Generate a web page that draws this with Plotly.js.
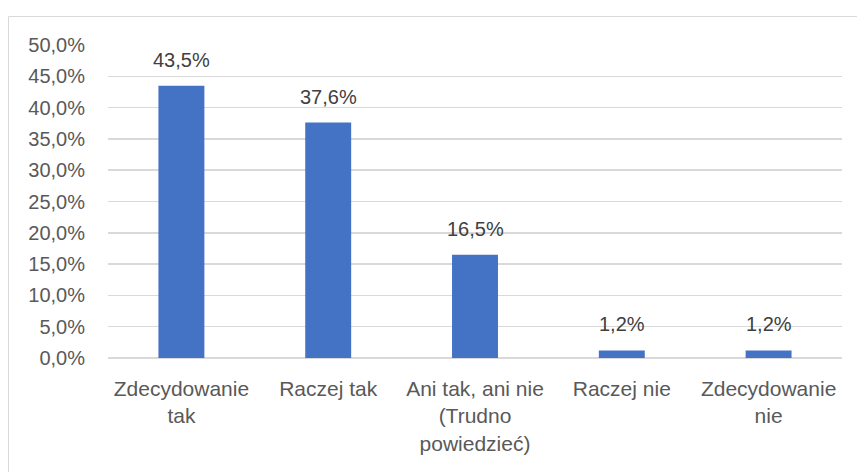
<!DOCTYPE html>
<html>
<head>
<meta charset="utf-8">
<script src="https://cdn.plot.ly/plotly-3.0.1.min.js"></script>
<style>html,body{margin:0;padding:0;background:#fff;}#chart{width:857px;height:472px;}</style>
</head>
<body>
<div id="chart"></div>
<script>
const categories = ["Zdecydowanie<br>tak", "Raczej tak", "Ani tak, ani nie<br>(Trudno<br>powiedzieć)", "Raczej nie", "Zdecydowanie<br>nie"];
const values = [0.435, 0.376, 0.165, 0.012, 0.012];
const yTicks = [0, 0.05, 0.10, 0.15, 0.20, 0.25, 0.30, 0.35, 0.40, 0.45, 0.50];

const FONT = "Liberation Sans, Arial, sans-serif";
const W = 857, H = 472;
const L = 108, R = 842, T = 45, B = 358;
const px = x => (x - L) / (R - L);
const py = y => (B - y) / (B - T);

const trace = {
  type: "bar",
  x: categories,
  y: values,
  marker: {color: "#4472C4"},
  hoverinfo: "skip"
};

const annotations = categories.map((c, i) => ({
  x: c, y: values[i], xref: "x", yref: "y",
  text: (values[i] * 100).toFixed(1).replace(".", ",") + "%",
  showarrow: false, yanchor: "bottom", yshift: 13,
  font: {family: FONT, size: 20, color: "#404040"}
}));

const layout = {
  width: W, height: H,
  margin: {l: L, r: W - R, t: T, b: H - B, pad: 0},
  paper_bgcolor: "#ffffff",
  plot_bgcolor: "#ffffff",
  separators: ", ",
  bargap: 0.687,
  showlegend: false,
  font: {family: FONT, size: 20, color: "#595959"},
  xaxis: {
    type: "category",
    showgrid: false,
    showline: false,
    zeroline: false,
    ticks: "",
    tickangle: 0,
    ticklabelstandoff: 16,
    tickfont: {family: FONT, size: 21, color: "#595959"}
  },
  yaxis: {
    range: [0, 0.5],
    tickvals: yTicks,
    tickformat: ".1%",
    showgrid: true,
    gridcolor: "#d9d9d9",
    gridwidth: 1.5,
    zeroline: true,
    zerolinecolor: "#d9d9d9",
    zerolinewidth: 1.5,
    showline: false,
    ticks: "",
    ticklabelstandoff: 22,
    tickfont: {family: FONT, size: 20, color: "#595959"}
  },
  annotations: annotations,
  shapes: [{
    type: "rect", xref: "paper", yref: "paper",
    x0: px(8.5), x1: px(900), y0: py(600), y1: py(16.5),
    line: {color: "#d9d9d9", width: 1}, fillcolor: "rgba(0,0,0,0)", layer: "below"
  }]
};

Plotly.newPlot("chart", [trace], layout, {displayModeBar: false, staticPlot: true});
</script>
</body>
</html>
